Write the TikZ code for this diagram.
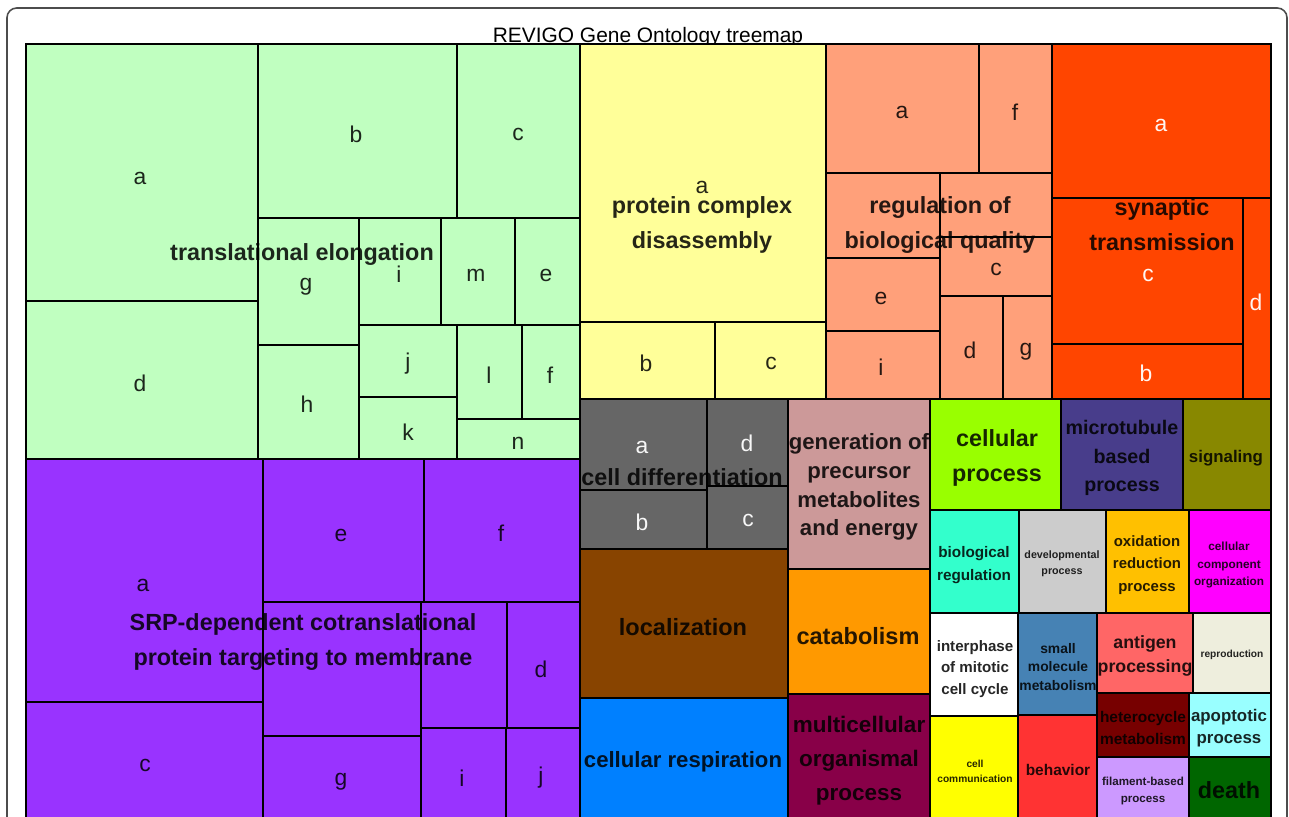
\documentclass[tikz,border=0pt]{standalone}
\usepackage{fontspec}
\setmainfont{Liberation Sans}
\newcommand{\fs}[2]{\fontsize{#1pt}{#2pt}\selectfont}

\definecolor{elong}{HTML}{C0FFC0}
\definecolor{srp}{HTML}{9933FF}
\definecolor{pcd}{HTML}{FFFF99}
\definecolor{rbq}{HTML}{FFA07A}
\definecolor{syn}{HTML}{FF4500}
\definecolor{cdiff}{HTML}{666666}
\definecolor{genprec}{HTML}{CC9999}
\definecolor{local}{HTML}{884400}
\definecolor{catab}{HTML}{FF9900}
\definecolor{resp}{HTML}{0080FF}
\definecolor{multi}{HTML}{880048}
\definecolor{cproc}{HTML}{99FF00}
\definecolor{micro}{HTML}{483D8B}
\definecolor{signal}{HTML}{888800}
\definecolor{bioreg}{HTML}{33FFCC}
\definecolor{devel}{HTML}{CCCCCC}
\definecolor{oxred}{HTML}{FFC000}
\definecolor{ccorg}{HTML}{FF00FF}
\definecolor{smallmol}{HTML}{4682B4}
\definecolor{antigen}{HTML}{FF6666}
\definecolor{repro}{HTML}{EEEEDD}
\definecolor{hetero}{HTML}{770000}
\definecolor{apopt}{HTML}{99FFFF}
\definecolor{filam}{HTML}{CC99FF}
\definecolor{death}{HTML}{006600}
\definecolor{cellcom}{HTML}{FFFF00}
\definecolor{behav}{HTML}{FF3333}

\tikzset{
  grp/.style={draw=black, line width=1.6pt},
  sub/.style={draw=black, line width=0.9pt},
  lbl/.style={inner sep=0pt, font=\fs{13}{13}, text=black, text opacity=0.85},
  wlbl/.style={lbl, text=white, text opacity=0.95},
  ttl/.style={inner sep=0pt, align=center, text=black, text opacity=0.85, font=\bfseries\fs{13.3}{19.8}}
}

\begin{document}
\begin{tikzpicture}[x=0.02cm, y=-0.02cm]
\useasboundingbox (0,0) rectangle (1289,816);
\clip (0,0) rectangle (1289,816);
\fill[white] (0,0) rectangle (1289,816);
\draw[black!70, line width=0.9pt, rounded corners=5.5pt] (7,8) rectangle (1287,860);
\node[font=\fs{11.9}{12}, inner sep=0pt, anchor=base] (title) at (648,42) {REVIGO Gene Ontology treemap};

% translational elongation
\fill[elong] (26,44) rectangle (580,459);
\draw[sub] (26,44) rectangle (258,301);
\draw[sub] (26,301) rectangle (258,459);
\draw[sub] (258,44) rectangle (457,218);
\draw[sub] (457,44) rectangle (580,218);
\draw[sub] (258,218) rectangle (359,345);
\draw[sub] (258,345) rectangle (359,459);
\draw[sub] (359,218) rectangle (441,325);
\draw[sub] (441,218) rectangle (515,325);
\draw[sub] (515,218) rectangle (580,325);
\draw[sub] (359,325) rectangle (457,397);
\draw[sub] (359,397) rectangle (457,459);
\draw[sub] (457,325) rectangle (522,419);
\draw[sub] (522,325) rectangle (580,419);
\draw[sub] (457,419) rectangle (580,459);
\draw[grp] (26,44) rectangle (580,459);

% SRP-dependent targeting
\fill[srp] (26,459) rectangle (580,824);
\draw[sub] (26,459) rectangle (263,702);
\draw[sub] (26,702) rectangle (263,824);
\draw[sub] (263,459) rectangle (424,602);
\draw[sub] (424,459) rectangle (580,602);
\draw[sub] (263,602) rectangle (421,736);
\draw[sub] (263,736) rectangle (421,824);
\draw[sub] (421,602) rectangle (507,728);
\draw[sub] (507,602) rectangle (580,728);
\draw[sub] (421,728) rectangle (506,824);
\draw[sub] (506,728) rectangle (580,824);
\draw[grp] (26,459) rectangle (580,824);

% protein complex disassembly
\fill[pcd] (580,44) rectangle (826,399);
\draw[sub] (580,44) rectangle (826,322);
\draw[sub] (580,322) rectangle (715,399);
\draw[sub] (715,322) rectangle (826,399);
\draw[grp] (580,44) rectangle (826,399);

% regulation of biological quality
\fill[rbq] (826,44) rectangle (1052,399);
\draw[sub] (826,44) rectangle (979,173);
\draw[sub] (979,44) rectangle (1052,173);
\draw[sub] (826,173) rectangle (940,258);
\draw[sub] (940,173) rectangle (1052,237);
\draw[sub] (940,237) rectangle (1052,296);
\draw[sub] (826,258) rectangle (940,331);
\draw[sub] (826,331) rectangle (940,399);
\draw[sub] (940,296) rectangle (1003,399);
\draw[sub] (1003,296) rectangle (1052,399);
\draw[grp] (826,44) rectangle (1052,399);

% synaptic transmission
\fill[syn] (1052,44) rectangle (1271,399);
\draw[sub] (1052,44) rectangle (1271,198);
\draw[sub] (1052,198) rectangle (1243,344);
\draw[sub] (1052,344) rectangle (1243,399);
\draw[sub] (1243,198) rectangle (1271,399);
\draw[grp] (1052,44) rectangle (1271,399);

% cell differentiation
\fill[cdiff] (580,399) rectangle (788,549);
\draw[sub] (580,399) rectangle (707,490);
\draw[sub] (580,490) rectangle (707,549);
\draw[sub] (707,399) rectangle (788,486);
\draw[sub] (707,486) rectangle (788,549);
\draw[grp] (580,399) rectangle (788,549);

% single cell groups
\filldraw[grp, fill=local] (580,549) rectangle (788,698);
\filldraw[grp, fill=resp] (580,698) rectangle (788,824);
\filldraw[grp, fill=genprec] (788,399) rectangle (930,569);
\filldraw[grp, fill=catab] (788,569) rectangle (930,694);
\filldraw[grp, fill=multi] (788,694) rectangle (930,824);
\filldraw[grp, fill=cproc] (930,399) rectangle (1061,510);
\filldraw[grp, fill=micro] (1061,399) rectangle (1183,510);
\filldraw[grp, fill=signal] (1183,399) rectangle (1271,510);
\filldraw[grp, fill=bioreg] (930,510) rectangle (1019,613);
\filldraw[grp, fill=devel] (1019,510) rectangle (1106,613);
\filldraw[grp, fill=oxred] (1106,510) rectangle (1189,613);
\filldraw[grp, fill=ccorg] (1189,510) rectangle (1271,613);
\filldraw[grp, fill=white] (930,613) rectangle (1018,716);
\filldraw[grp, fill=smallmol] (1018,613) rectangle (1097,715);
\filldraw[grp, fill=antigen] (1097,613) rectangle (1193,693);
\filldraw[grp, fill=repro] (1193,613) rectangle (1271,693);
\filldraw[grp, fill=hetero] (1097,693) rectangle (1189,757);
\filldraw[grp, fill=apopt] (1189,693) rectangle (1271,757);
\filldraw[grp, fill=filam] (1097,757) rectangle (1189,824);
\filldraw[grp, fill=death] (1189,757) rectangle (1271,824);
\filldraw[grp, fill=cellcom] (930,716) rectangle (1018,824);
\filldraw[grp, fill=behav] (1018,715) rectangle (1097,824);
\draw[grp] (26,44) rectangle (1271,824);

% letters
\node[lbl] (ela) at (140,178) {a};
\node[lbl] (elb) at (356,134) {b};
\node[lbl] (elc) at (518,134) {c};
\node[lbl] (eld) at (140,383) {d};
\node[lbl] (elg) at (306,287) {g};
\node[lbl] (elh) at (307,404) {h};
\node[lbl] (eli) at (399,274) {i};
\node[lbl] (elm) at (476,275) {m};
\node[lbl] (ele) at (546,275) {e};
\node[lbl] (elj) at (408,364) {j};
\node[lbl] (ell) at (489,375) {l};
\node[lbl] (elf) at (550,375) {f};
\node[lbl] (elk) at (408,432) {k};
\node[lbl] (eln) at (518,443) {n};
\node[lbl] (sra) at (143,585) {a};
\node[lbl] (sre) at (341,535) {e};
\node[lbl] (srf) at (501,533) {f};
\node[lbl] (srd) at (541,669) {d};
\node[lbl] (src) at (145,765) {c};
\node[lbl] (srg) at (341,782) {g};
\node[lbl] (sri) at (462,778) {i};
\node[lbl] (srj) at (541,778) {j};
\node[lbl] (pca) at (702,187) {a};
\node[lbl] (pcb) at (646,363) {b};
\node[lbl] (pcc) at (771,363) {c};
\node[lbl] (rba) at (902,112) {a};
\node[lbl] (rbf) at (1015,112) {f};
\node[lbl] (rbc) at (996,269) {c};
\node[lbl] (rbe) at (881,298) {e};
\node[lbl] (rbi) at (881,367) {i};
\node[lbl] (rbd) at (970,350) {d};
\node[lbl] (rbg) at (1026,352) {g};
\node[wlbl] (sya) at (1161,125) {a};
\node[wlbl] (syc) at (1148,275) {c};
\node[wlbl] (syd) at (1256,302) {d};
\node[wlbl] (syb) at (1146,373) {b};
\node[wlbl] (cda) at (642,447) {a};
\node[wlbl] (cdd) at (747,443) {d};
\node[wlbl] (cdb) at (642,522) {b};
\node[wlbl] (cdc) at (748,520) {c};

% group titles
\node[ttl] (elong) at (302,255) {translational elongation};
\node[ttl] (srpt) at (303,642) {SRP-dependent cotranslational\\protein targeting to membrane};
\node[ttl] (pcdt) at (702,225) {protein complex\\disassembly};
\node[ttl] (rbqt) at (940,225) {regulation of\\biological quality};
\node[ttl] (synt) at (1162,225) {synaptic\\transmission};
\node[ttl] (cdifft) at (682,477) {cell differentiation};
\node[ttl, font=\bfseries\fs{12.6}{16.4}] (genprect) at (859,487) {generation of\\precursor\\metabolites\\and energy};
\node[ttl, font=\bfseries\fs{13.4}{16}] (localt) at (683,627) {localization};
\node[ttl, font=\bfseries\fs{13.4}{16}] (catabt) at (858,636) {catabolism};
\node[ttl, font=\bfseries\fs{12.6}{16}] (respt) at (683,762) {cellular respiration};
\node[ttl, font=\bfseries\fs{12.8}{19.3}] (multit) at (859,761) {multicellular\\organismal\\process};
\node[ttl, font=\bfseries\fs{13.3}{19.5}] (cproct) at (997,458) {cellular\\process};
\node[ttl, font=\bfseries\fs{11.2}{16}] (microt) at (1122,458) {microtubule\\based\\process};
\node[ttl, font=\bfseries\fs{9.6}{12}] (signalt) at (1226,458) {signaling};
\node[ttl, font=\bfseries\fs{8.7}{12.9}] (bioregt) at (974,565) {biological\\regulation};
\node[ttl, font=\bfseries\fs{6.1}{8.9}] (develt) at (1062,564) {developmental\\process};
\node[ttl, font=\bfseries\fs{8.5}{12.9}] (oxredt) at (1147,565) {oxidation\\reduction\\process};
\node[ttl, font=\bfseries\fs{6.7}{10.2}] (ccorgt) at (1229,565) {cellular\\component\\organization};
\node[ttl, font=\bfseries\fs{8.6}{12.4}] (interpht) at (975,669) {interphase\\of mitotic\\cell cycle};
\node[ttl, font=\bfseries\fs{7.9}{10.3}] (smallmolt) at (1058,667) {small\\molecule\\metabolism};
\node[ttl, font=\bfseries\fs{10.1}{13.6}] (antigent) at (1145,656) {antigen\\processing};
\node[ttl, font=\bfseries\fs{5.8}{8}] (reprot) at (1232,655) {reproduction};
\node[ttl, font=\bfseries\fs{8.8}{12.5}] (heterot) at (1143,728) {heterocycle\\metabolism};
\node[ttl, font=\bfseries\fs{9.6}{12.8}] (apoptt) at (1229,728) {apoptotic\\process};
\node[ttl, font=\bfseries\fs{6.6}{9.4}] (filamt) at (1143,791) {filament-based\\process};
\node[ttl, font=\bfseries\fs{13.3}{16}] (deatht) at (1229,790) {death};
\node[ttl, font=\bfseries\fs{5.8}{8.5}] (cellcomt) at (975,771) {cell\\communication};
\node[ttl, font=\bfseries\fs{8.8}{12}] (behavt) at (1058,770) {behavior};
\end{tikzpicture}
\end{document}
